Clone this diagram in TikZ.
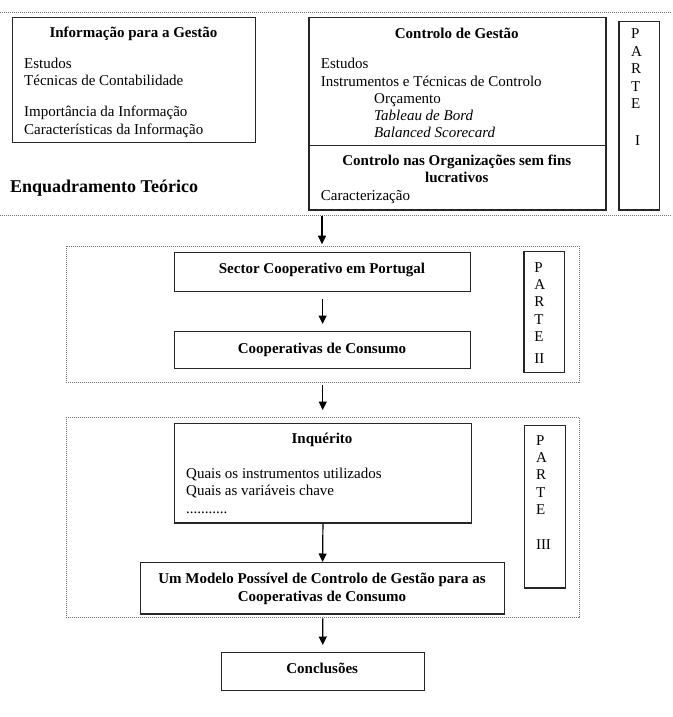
\documentclass[tikz,border=0pt]{standalone}
\usepackage{fontspec}
\setmainfont{Liberation Serif}
\usetikzlibrary{arrows.meta}
\begin{document}
\begin{tikzpicture}[x=1pt,y=-1pt,
  box/.style={draw=black!85,line width=1.2pt,anchor=north west,inner sep=0pt},
  dbox/.style={draw=black!55,line width=1pt,dash pattern=on 1pt off 1pt,anchor=north west,inner sep=0pt},
  sep/.style={draw=black!55,line width=1pt,dash pattern=on 1pt off 1pt},
  t/.style={anchor=base west,inner sep=0pt,font=\fontsize{15}{17.5}\selectfont},
  tb/.style={anchor=base,inner sep=0pt,font=\fontsize{15}{17.5}\selectfont\bfseries},
  arr/.style={draw=black,line width=1.2pt,-{Triangle[length=8.5pt,width=8pt]}}
]
\useasboundingbox (0,0) rectangle (672,717);

% separators
\coordinate (s1l) at (0,13); \coordinate (s1r) at (672,13);
\coordinate (s2l) at (0,215.5); \coordinate (s2r) at (672,215.5);
\draw[sep] (s1l) -- (s1r);
\draw[sep] (s2l) -- (s2r);

% Parte I : left box
\node[box,minimum width=243,minimum height=125] (info) at (12,17) {};
\node[tb] (infoT) at (133.5,37.5) {Informação para a Gestão};
\node[t] (i1) at (24,68) {Estudos};
\node[t] (i2) at (24,85.5) {Técnicas de Contabilidade};
\node[t] (i3) at (24,116.5) {Importância da Informação};
\node[t] (i4) at (24,134) {Características da Informação};
\node[anchor=base west,inner sep=0pt,font=\fontsize{18}{21}\selectfont\bfseries] (enq) at (10,192) {Enquadramento Teórico};

% right boxes
\node[box,minimum width=297,minimum height=127.4] (cg) at (308.3,17.3) {};
\node[box,minimum width=297,minimum height=64.6] (cno) at (308.3,144.7) {};
\node[tb] (cgT) at (456.8,38.5) {Controlo de Gestão};
\node[t] (c1) at (320.7,68.5) {Estudos};
\node[t] (c2) at (320.7,86) {Instrumentos e Técnicas de Controlo};
\node[t] (c3) at (374,103.5) {Orçamento};
\node[t] (c4) at (374,120.5) {\itshape Tableau de Bord};
\node[t] (c5) at (374,137.5) {\itshape Balanced Scorecard};
\node[tb] (cnoT1) at (456.8,165) {Controlo nas Organizações sem fins};
\node[tb] (cnoT2) at (456.8,182) {lucrativos};
\node[t] (cno1) at (320.7,200) {Caracterização};

% PARTE I
\node[box,minimum width=40.7,minimum height=188.6] (p1) at (618.3,20.7) {};
\foreach \l [count=\i] in {P,A,R,T,E}
  \node[t] (p1l\i) at (630.8,21.3+17.5*\i) {\l};
\node[t] (p1n) at (634.8,145) {I};

% Parte II
\node[dbox,minimum width=513,minimum height=136] (part2) at (65.7,245.7) {};
\node[box,minimum width=296,minimum height=39] (sector) at (174,252) {};
\node[tb] (sectorT) at (322,273) {Sector Cooperativo em Portugal};
\node[box,minimum width=296,minimum height=37] (coop) at (174,331) {};
\node[tb] (coopT) at (322,353) {Cooperativas de Consumo};
\node[box,minimum width=40.7,minimum height=120.7] (p2) at (523.3,251) {};
\foreach \l [count=\i] in {P,A,R,T,E}
  \node[t] (p2l\i) at (534.1,255+17.25*\i) {\l};
\node[t] (p2n) at (534.1,363.8) {II};

% Parte III
\node[dbox,minimum width=513,minimum height=200.6] (part3) at (65.7,416.7) {};
\node[box,minimum width=296.7,minimum height=99.6] (inq) at (174,422.7) {};
\node[tb] (inqT) at (322,443.8) {Inquérito};
\node[t] (q1) at (186,478) {Quais os instrumentos utilizados};
\node[t] (q2) at (186,495.5) {Quais as variáveis chave};
\node[t] (q3) at (186,513) {...........};
\node[box,minimum width=364,minimum height=51.3] (modelo) at (140,562) {};
\node[tb] (modT1) at (322,583.8) {Um Modelo Possível de Controlo de Gestão para as};
\node[tb] (modT2) at (322,601.5) {Cooperativas de Consumo};
\node[box,minimum width=41,minimum height=162.3] (p3) at (524,425) {};
\foreach \l [count=\i] in {P,A,R,T,E}
  \node[t] (p3l\i) at (535.8,428.3+17.2*\i) {\l};
\node[t] (p3n) at (535.8,549) {III};

% Conclusões
\node[box,minimum width=203,minimum height=38] (concl) at (220.7,652) {};
\node[tb] (conclT) at (322.2,673.8) {Conclusões};

% arrows
\coordinate (a1s) at (322,215.5);
\draw[arr,shorten >=1.5pt] (a1s) -- (a1s |- part2.north);
\draw[arr,shorten <=6.5pt,shorten >=7pt] (sector.south) -- (coop.north);
\draw[arr,shorten <=2.3pt,shorten >=6.7pt] (part2.south) -- (part3.north);
\draw[arr] (inq.south) -- (modelo.north);
\draw[arr,shorten >=7pt] (part3.south) -- (concl.north);
\end{tikzpicture}
\end{document}
